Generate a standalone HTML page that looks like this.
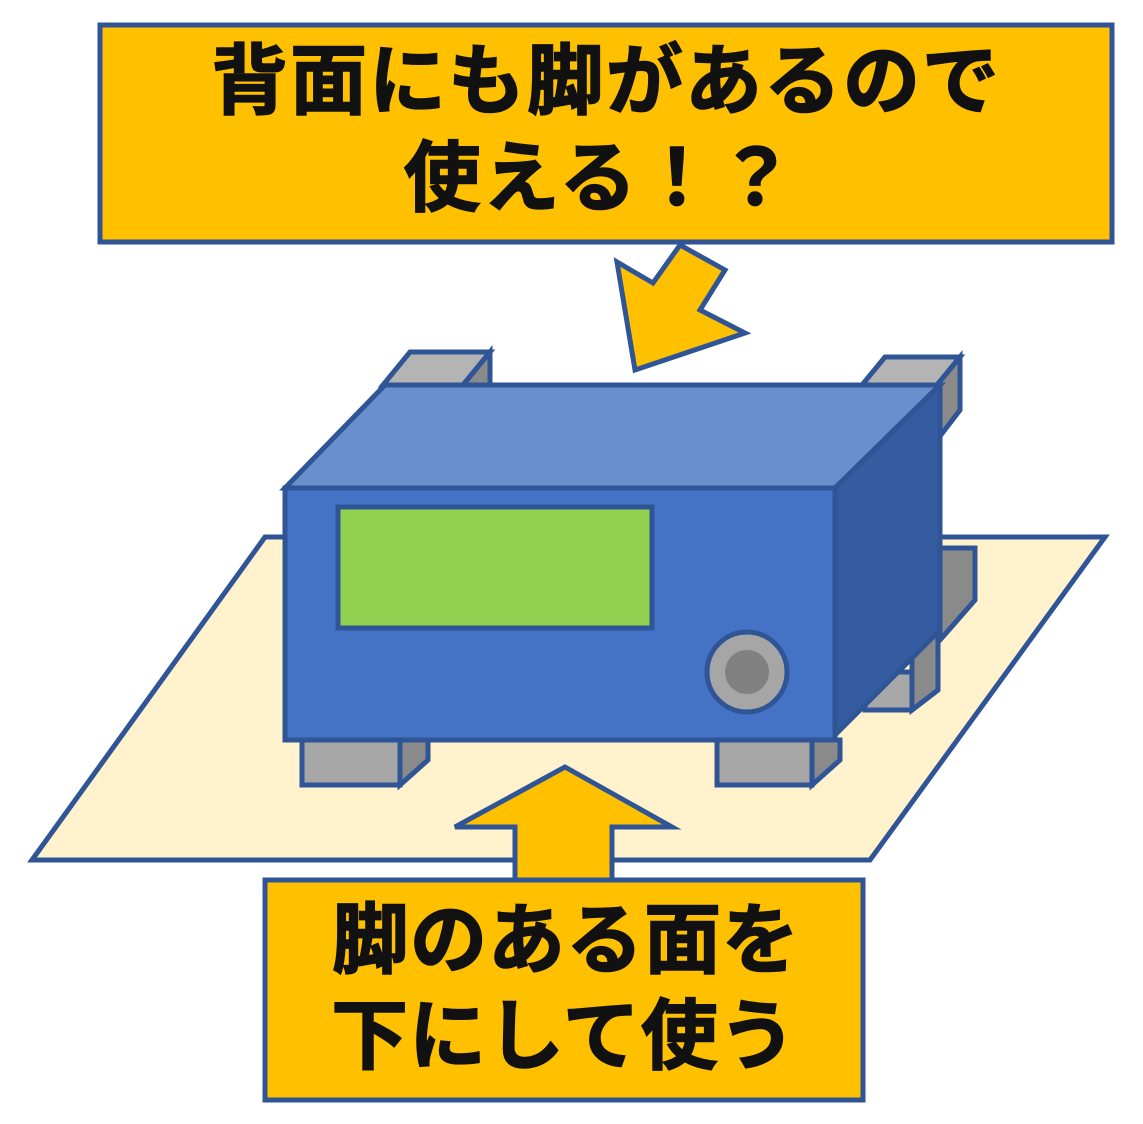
<!DOCTYPE html>
<html><head><meta charset="utf-8"><style>
html,body{margin:0;padding:0;background:#fff;}
svg{display:block;}
text{font-family:"Liberation Sans","Noto Sans CJK JP",sans-serif;font-weight:bold;fill:#111;stroke:#111;stroke-width:1.5px;}
</style></head><body>
<svg width="1143" height="1124" viewBox="0 0 1143 1124">
<g stroke="#2f5597" stroke-width="5" stroke-linejoin="miter">
<polygon points="32,860 265,537 1105,537 870,860" fill="#fff2cc"/>
<polygon points="383,385 410,352 490,352 463,385" fill="#b4b4b4"/>
<polygon points="463,385 490,352 490,385" fill="#8a8a8a"/>
<polygon points="862,385 885,357 960,357 937,385" fill="#b4b4b4"/>
<polygon points="937,385 960,357 960,410 937,440" fill="#8a8a8a"/>
<polygon points="940,548 975,548 975,600 940,640" fill="#8a8a8a"/>
<polygon points="865,705 895,672 938,672 938,690 912,710 865,710" fill="#a8a8a8"/>
<polygon points="912,650 938,625 938,690 912,710" fill="#8a8a8a"/>
<polygon points="285,488 385,385 940,385 835,488" fill="#6a8fcd"/>
<polygon points="835,488 940,385 940,630 835,735" fill="#355ca0"/>
<rect x="285" y="488" width="550" height="252" fill="#4472c4"/>
<rect x="338" y="507" width="314" height="121" fill="#92d050"/>
<circle cx="747" cy="672" r="40" fill="#a6a6a6"/>
<circle cx="747" cy="672" r="22" fill="#808080" stroke="none"/>
<rect x="302" y="740" width="98" height="45" fill="#a6a6a6"/>
<polygon points="400,740 428,740 428,760 400,785" fill="#8a8a8a"/>
<rect x="717" y="740" width="95" height="45" fill="#a6a6a6"/>
<polygon points="812,740 840,740 840,760 812,785" fill="#8a8a8a"/>
<polygon points="565,767 672,827 612,827 612,882 515,882 515,827 455,827" fill="#ffc000"/>
<polygon points="635,370 617,262 653,283 680,245 725,270 700,310 745,333" fill="#ffc000"/>
<rect x="100" y="25" width="1012" height="217" fill="#ffc000"/>
<rect x="265" y="880" width="598" height="220" fill="#ffc000"/>
</g>
<text x="606" y="108" font-size="77" letter-spacing="2" text-anchor="middle">背面にも脚があるので</text>
<text x="600" y="205" font-size="77" letter-spacing="2" text-anchor="middle">使える！？</text>
<text x="566" y="967" font-size="77" letter-spacing="1" text-anchor="middle">脚のある面を</text>
<text x="564" y="1063" font-size="77" letter-spacing="1" text-anchor="middle">下にして使う</text>
</svg>
</body></html>
